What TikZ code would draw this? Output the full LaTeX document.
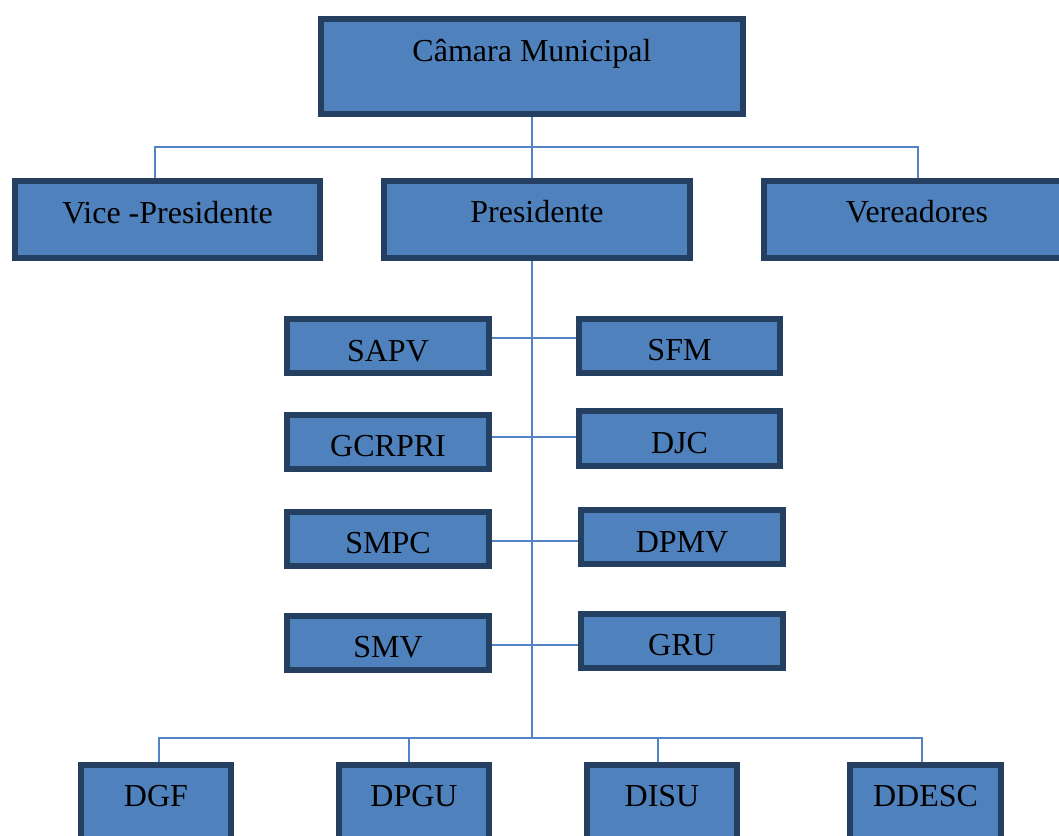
\documentclass[tikz,border=0pt]{standalone}
\usepackage{fontspec}
\setmainfont{Liberation Serif}
\definecolor{boxfill}{HTML}{4F81BD}
\definecolor{boxline}{HTML}{243F60}
\definecolor{connc}{HTML}{5283C2}
\begin{document}
\begin{tikzpicture}[x=1pt,y=-1pt,
  box/.style={draw=boxline, line width=6pt, fill=boxfill, inner sep=0pt},
  lbl/.style={anchor=base, inner sep=0pt, font=\fontsize{32}{38}\selectfont},
  conn/.style={draw=connc, line width=2pt}]
\useasboundingbox (0,0) rectangle (1059,835);
\clip (0,0) rectangle (1059,835);
% boxes
\node[box, minimum width=422pt, minimum height=95pt] (cam) at (532,66.5) {};
\node[box, minimum width=305pt, minimum height=77pt] (vice) at (167.5,219.5) {};
\node[box, minimum width=306pt, minimum height=77pt] (pres) at (537,219.5) {};
\node[box, minimum width=306pt, minimum height=77pt] (ver) at (917,219.5) {};
\node[box, minimum width=202pt, minimum height=54pt] (sapv) at (388,346) {};
\node[box, minimum width=201pt, minimum height=54pt] (sfm) at (679.5,346) {};
\node[box, minimum width=202pt, minimum height=54pt] (gcrpri) at (388,442) {};
\node[box, minimum width=201pt, minimum height=55pt] (djc) at (679.5,438.5) {};
\node[box, minimum width=202pt, minimum height=54pt] (smpc) at (388,539) {};
\node[box, minimum width=202pt, minimum height=54pt] (dpmv) at (682,537) {};
\node[box, minimum width=202pt, minimum height=54pt] (smv) at (388,643) {};
\node[box, minimum width=202pt, minimum height=54pt] (gru) at (682,641) {};
\node[box, minimum width=150pt, minimum height=94pt] (dgf) at (156,812) {};
\node[box, minimum width=150pt, minimum height=94pt] (dpgu) at (414,812) {};
\node[box, minimum width=150pt, minimum height=94pt] (disu) at (662,812) {};
\node[box, minimum width=151pt, minimum height=94pt] (ddesc) at (925.5,812) {};
% labels
\node[lbl] (tcam) at (532,61) {Câmara Municipal};
\node[lbl] (tvice) at (167.5,223) {Vice -Presidente};
\node[lbl] (tpres) at (537,222) {Presidente};
\node[lbl] (tver) at (917,222) {Vereadores};
\node[lbl] (tsapv) at (388,361) {SAPV};
\node[lbl] (tsfm) at (679.5,360) {SFM};
\node[lbl] (tgcrpri) at (388,456) {GCRPRI};
\node[lbl] (tdjc) at (679.5,453) {DJC};
\node[lbl] (tsmpc) at (388,553) {SMPC};
\node[lbl] (tdpmv) at (682,552) {DPMV};
\node[lbl] (tsmv) at (388,657) {SMV};
\node[lbl] (tgru) at (682,655) {GRU};
\node[lbl] (tdgf) at (156,806) {DGF};
\node[lbl] (tdpgu) at (414,806) {DPGU};
\node[lbl] (tdisu) at (662,806) {DISU};
\node[lbl] (tddesc) at (925.5,806) {DDESC};
% connectors
\coordinate (bj) at (532,738);
\draw[conn] (cam.south) -- (cam.south |- pres.north);
\draw[conn] ([xshift=-12.5pt]vice.north) -- ++(0,-31) -| ([xshift=1pt]ver.north);
\draw[conn] (cam.south |- pres.south) -- (bj);
\draw[conn] ([xshift=3pt]dgf.north) -- ++(0,-24) -| ([xshift=-3.5pt]ddesc.north);
\draw[conn] ([xshift=-5pt]dpgu.north) -- ++(0,-24);
\draw[conn] ([xshift=-4pt]disu.north) -- ++(0,-24);
\draw[conn] ([yshift=8pt]sapv.east) -- ([yshift=8pt]sfm.west);
\draw[conn] ([yshift=5pt]gcrpri.east) -- ([yshift=1.5pt]djc.west);
\draw[conn] ([yshift=-2pt]smpc.east) -- ([yshift=-4pt]dpmv.west);
\draw[conn] ([yshift=-2pt]smv.east) -- ([yshift=-4pt]gru.west);
\end{tikzpicture}
\end{document}
